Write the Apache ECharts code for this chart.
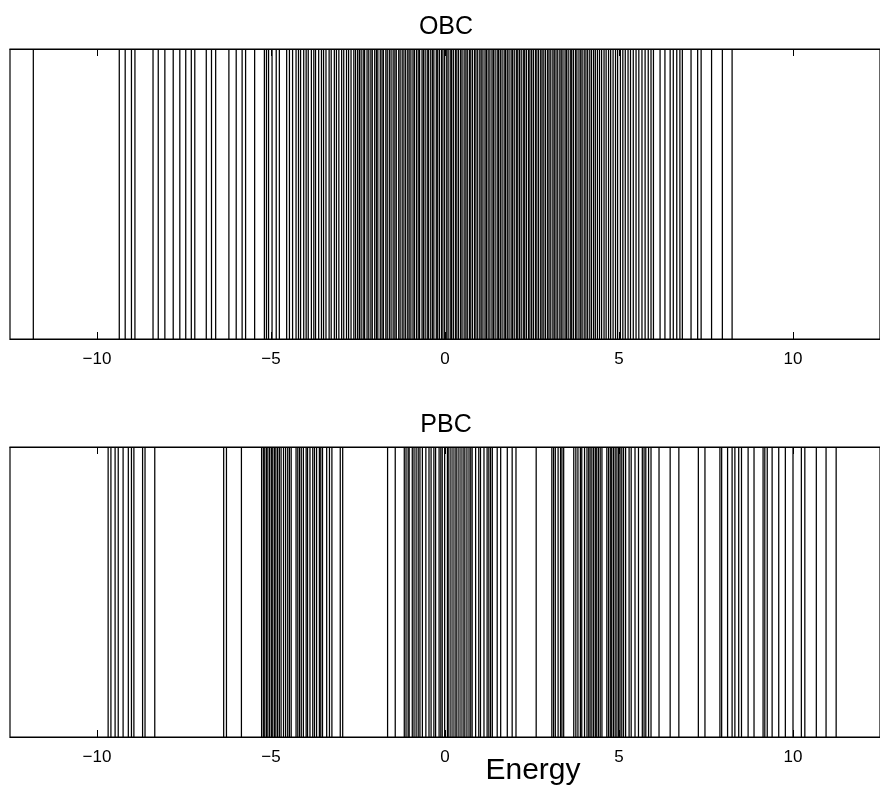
<!DOCTYPE html>
<html>
<head>
<meta charset="utf-8">
<script src="https://cdn.jsdelivr.net/npm/echarts@6/dist/echarts.min.js"></script>
<style>
html,body{margin:0;padding:0;background:#fff;}
#chart{width:880px;height:794px;}
</style>
</head>
<body>
<div id="chart"></div>
<script>
// ---- data ----
const panelTitles = ['OBC', 'PBC'];
const axisTitle = 'Energy';
const tickValues = [-10, -5, 0, 5, 10];
const tickLabels = ['\u221210', '\u22125', '0', '5', '10'];

const obcEnergies = [
  -11.83, -9.36, -9.19, -9.01, -8.91, -8.39, -8.24, -8.05, -7.81, -7.62, -7.45, -7.29, -7.19,
  -6.86, -6.71, -6.59, -6.21, -6.00, -5.83, -5.73, -5.47, -5.19, -5.13, -5.07, -4.97, -4.85,
  -4.76, -4.55, -4.47, -4.38, -4.28,
  -4.21, -4.15, -4.06, -3.99, -3.93, -3.84, -3.77, -3.72, -3.63, -3.55, -3.49, -3.42, -3.33,
  -3.27, -3.18, -3.12, -3.05, -2.97, -2.91, -2.83, -2.77, -2.70, -2.62, -2.57, -2.51,
  -2.46, -2.41, -2.35, -2.31, -2.24, -2.19, -2.13, -2.09, -2.02, -1.97, -1.93, -1.86, -1.81,
  -1.77, -1.70, -1.66, -1.60, -1.55, -1.49, -1.44, -1.40, -1.33, -1.29, -1.23, -1.18, -1.13,
  -1.07, -1.03, -0.98, -0.92, -0.88, -0.82, -0.77, -0.73, -0.66, -0.62, -0.57, -0.51, -0.47,
  -0.41, -0.36, -0.32, -0.25, -0.21, -0.16, -0.10, -0.06, -0.01, 0.05, 0.09, 0.15, 0.19, 0.24,
  0.30, 0.34, 0.39, 0.45, 0.49, 0.55, 0.60, 0.64, 0.70, 0.74, 0.79, 0.85, 0.89, 0.94, 1.00,
  1.04, 1.09, 1.15, 1.19, 1.24, 1.29, 1.35, 1.39, 1.44, 1.50, 1.54, 1.59, 1.64, 1.70, 1.74,
  1.79, 1.84, 1.90, 1.94, 1.99, 2.05, 2.09, 2.14, 2.19, 2.25, 2.29, 2.34, 2.40, 2.44, 2.49,
  2.54, 2.60, 2.64, 2.69, 2.75, 2.79, 2.84, 2.89, 2.95, 2.99, 3.04, 3.10, 3.14, 3.19, 3.24,
  3.30, 3.34, 3.39, 3.45, 3.49, 3.54, 3.60, 3.64, 3.69, 3.75, 3.79, 3.85, 3.90, 3.94, 4.00,
  4.05, 4.10, 4.16, 4.21, 4.27, 4.32, 4.38, 4.44,
  4.50, 4.57, 4.63, 4.70, 4.76, 4.83, 4.90, 4.96, 5.04, 5.11, 5.18, 5.26, 5.33, 5.41, 5.49,
  5.57, 5.66, 5.75, 5.84, 5.92,
  5.99, 6.18, 6.32, 6.47, 6.56, 6.66, 6.75, 6.82, 7.07, 7.26, 7.36, 7.66, 7.97, 8.25
];

const pbcEnergies = [
  -9.68, -9.60, -9.48, -9.39, -9.25, -9.10, -9.01, -8.94, -8.69, -8.62, -8.34,
  -6.36, -6.28, -5.85,
  -5.27, -5.22, -5.18, -5.13, -5.09, -5.04, -4.99, -4.95, -4.90, -4.86, -4.81, -4.76,
  -4.71, -4.64, -4.58, -4.52, -4.47, -4.42, -4.28,
  -4.23, -4.18, -4.13, -4.07, -3.99, -3.95, -3.88, -3.80, -3.75, -3.69, -3.61, -3.57, -3.52,
  -3.40, -3.32, -3.25, -3.01, -2.94,
  -1.65, -1.43, -1.17, -1.12, -1.06, -1.03, -0.94, -0.89, -0.83, -0.77, -0.72, -0.65, -0.55,
  -0.46, -0.40, -0.32, -0.27, -0.17, -0.12, -0.08, -0.01, 0.07, 0.11, 0.17, 0.23, 0.29, 0.34,
  0.40, 0.46, 0.52, 0.57, 0.63, 0.69, 0.74, 0.78, 0.88, 0.97, 1.02, 1.12, 1.21, 1.26, 1.31,
  1.36, 1.50, 1.60, 1.79, 1.93, 2.04, 2.62,
  3.07, 3.12, 3.17, 3.25, 3.32, 3.36, 3.41, 3.70, 3.76, 3.82, 3.89, 3.93, 4.01, 4.08, 4.13,
  4.17, 4.22, 4.27, 4.32, 4.36, 4.41, 4.46, 4.51, 4.65, 4.70, 4.75, 4.79, 4.84, 4.89, 4.94,
  4.99, 5.03, 5.08, 5.13, 5.19, 5.29, 5.35, 5.46, 5.56, 5.67, 5.72, 5.77, 5.85, 5.92,
  6.15, 6.47, 6.72, 7.28, 7.47, 7.90, 7.95, 8.12, 8.25, 8.33, 8.44, 8.52, 8.71, 8.88,
  9.14, 9.19, 9.26, 9.40, 9.59, 9.78, 10.00, 10.24, 10.34, 10.67, 10.95, 11.24
];

const xMin = -12.5, xMax = 12.5;

// ---- chart ----
const chart = echarts.init(document.getElementById('chart'), null, {renderer: 'canvas'});
const FONT = 'Liberation Sans, Arial, Helvetica, sans-serif';

function bottomAxis(gridIndex) {
  return {
    type: 'value', gridIndex: gridIndex, position: 'bottom', min: xMin, max: xMax,
    axisLine: {show: true, lineStyle: {color: '#000', width: 1.2}},
    axisTick: {show: true, inside: true, length: 7, customValues: tickValues, lineStyle: {color: '#000', width: 1}},
    axisLabel: {
      show: true, customValues: tickValues, margin: 12, color: '#000', fontSize: 17, fontFamily: FONT,
      formatter: function (v) { const i = tickValues.indexOf(v); return i >= 0 ? tickLabels[i] : ''; }
    },
    splitLine: {show: false}
  };
}
function topAxis(gridIndex) {
  return {
    type: 'value', gridIndex: gridIndex, position: 'top', min: xMin, max: xMax,
    axisLine: {show: true, lineStyle: {color: '#000', width: 1.2}},
    axisTick: {show: true, inside: true, length: 7, customValues: tickValues, lineStyle: {color: '#000', width: 1}},
    axisLabel: {show: false},
    splitLine: {show: false}
  };
}
function yAxis(gridIndex) {
  return {
    type: 'value', gridIndex: gridIndex, min: 0, max: 1,
    axisLine: {show: false}, axisTick: {show: false}, axisLabel: {show: false}, splitLine: {show: false}
  };
}
function renderLine(params, api) {
  const x = api.value(0);
  const p0 = api.coord([x, 0]);
  const p1 = api.coord([x, 1]);
  return {
    type: 'line',
    shape: {x1: p0[0], y1: p0[1], x2: p1[0], y2: p1[1]},
    style: {stroke: '#000', lineWidth: 1.25}
  };
}

const option = {
  backgroundColor: '#fff',
  animation: false,
  grid: [
    {left: 10, top: 49, width: 872, height: 290, show: true, borderColor: '#000', borderWidth: 1.2, containLabel: false},
    {left: 10, top: 447, width: 872, height: 290, show: true, borderColor: '#000', borderWidth: 1.2, containLabel: false}
  ],
  xAxis: [bottomAxis(0), topAxis(0), bottomAxis(1), topAxis(1)],
  yAxis: [yAxis(0), yAxis(1)],
  graphic: [
    {type: 'text', x: 446, y: 27, style: {text: panelTitles[0], font: '25px ' + FONT, fill: '#000', textAlign: 'center', textVerticalAlign: 'middle'}},
    {type: 'text', x: 446, y: 425, style: {text: panelTitles[1], font: '25px ' + FONT, fill: '#000', textAlign: 'center', textVerticalAlign: 'middle'}},
    {type: 'text', x: 533, y: 771, style: {text: axisTitle, font: '30px ' + FONT, fill: '#000', textAlign: 'center', textVerticalAlign: 'middle'}}
  ],
  series: [
    {type: 'custom', xAxisIndex: 0, yAxisIndex: 0, data: obcEnergies.map(v => [v]), encode: {x: 0}, renderItem: renderLine, silent: true},
    {type: 'custom', xAxisIndex: 2, yAxisIndex: 1, data: pbcEnergies.map(v => [v]), encode: {x: 0}, renderItem: renderLine, silent: true}
  ]
};
chart.setOption(option);
</script>
</body>
</html>
